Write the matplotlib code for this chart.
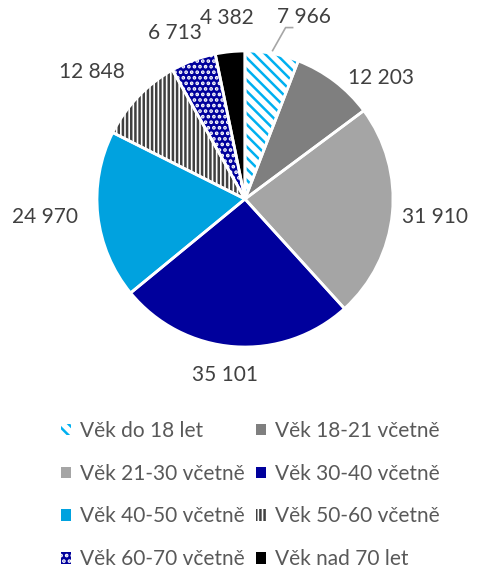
import matplotlib
matplotlib.use('Agg')
import numpy as np
import matplotlib.pyplot as plt
import matplotlib.patches as mpatches

plt.rcParams['font.family'] = ['Lato', 'DejaVu Sans']
plt.rcParams['hatch.linewidth'] = 1.8

categories = ['Věk do 18 let', 'Věk 18-21 včetně', 'Věk 21-30 včetně', 'Věk 30-40 včetně',
              'Věk 40-50 včetně', 'Věk 50-60 včetně', 'Věk 60-70 včetně', 'Věk nad 70 let']
values = [7966, 12203, 31910, 35101, 24970, 12848, 6713, 4382]
value_labels = ['7 966', '12 203', '31 910', '35 101', '24 970', '12 848', '6 713', '4 382']

# face, hatch colour, hatch
faces = ['white', '#7F7F7F', '#A5A5A5', '#00009C', '#00A2DF', 'white', '#00009C', 'black']
hatch_cols = ['#00B0F0', '#7F7F7F', '#A5A5A5', '#00009C', '#00A2DF', '#404040', 'white', 'black']
hatches = ['\\\\\\', None, None, None, None, '||||', '...', None]

# label placement: distance from centre, angular shift (deg)
lab_r = [1.29, 1.23, 1.29, 1.20, 1.36, 1.34, 1.22, 1.23]
lab_shift = [-7.5, -11, 0, -2.3, -1.3, 4, 2.4, 0]

txt_col = '#404040'

fig = plt.figure(figsize=(4.79, 5.70), dpi=100)
ax = fig.add_axes([0, 0, 1, 1])
R = 148.0

wedges, _ = ax.pie(values, startangle=90, counterclock=False, radius=1,
                   colors=faces, wedgeprops=dict(linewidth=0))
for w, hc, h in zip(wedges, hatch_cols, hatches):
    w.set_edgecolor(hc)
    w.set_linewidth(0)
    if h:
        w.set_hatch(h)

# white separators
ax.pie(values, startangle=90, counterclock=False, radius=1,
       colors=['none'] * len(values),
       wedgeprops=dict(edgecolor='white', linewidth=2, fill=False))

for i, w in enumerate(wedges):
    mid = np.deg2rad((w.theta1 + w.theta2) / 2 + lab_shift[i])
    x, y = lab_r[i] * np.cos(mid), lab_r[i] * np.sin(mid)
    ax.text(x, y, value_labels[i], ha='center', va='center', fontsize=15, color=txt_col)

# leader line for the first label
w0 = wedges[0]
m0 = np.deg2rad((w0.theta1 + w0.theta2) / 2)
p0 = (1.02 * np.cos(m0), 1.02 * np.sin(m0))
ax.plot([p0[0], p0[0] + 13 / R, p0[0] + 20 / R],
        [p0[1], p0[1] + 23 / R, p0[1] + 23 / R], color='#A6A6A6', lw=1.2)

ax.set_xlim(-245 / R, 234 / R)
ax.set_ylim(-371 / R, 199 / R)
ax.axis('off')

handles = []
for c, f, hc, h in zip(categories, faces, hatch_cols, hatches):
    handles.append(mpatches.Patch(facecolor=f, edgecolor=hc, hatch=h, linewidth=0, label=c))
# row-major order for a 2-column legend
order = [0, 2, 4, 6, 1, 3, 5, 7]
handles = [handles[k] for k in order]

fig.legend(handles=handles, loc='upper left', bbox_to_anchor=(0.128, 0.262), ncol=2,
           frameon=False, fontsize=15, handlelength=0.45, handleheight=0.45,
           handletextpad=0.45, columnspacing=0.55, labelspacing=1.1, labelcolor='#595959',
           borderaxespad=0, borderpad=0)

fig.savefig('out.png', dpi=100)
